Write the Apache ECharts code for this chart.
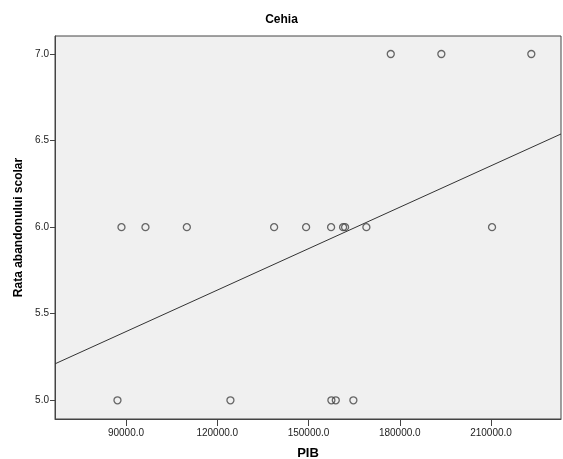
<!DOCTYPE html>
<html>
<head>
<meta charset="utf-8">
<script src="https://cdn.jsdelivr.net/npm/echarts@6/dist/echarts.min.js"></script>
<style>
html,body{margin:0;padding:0;background:#fff;}
#c{width:563px;height:459px;}
</style>
</head>
<body>
<div id="c"></div>
<script>
// Data
var pib7 = [177042, 193669, 223242];
var pib6 = [88521, 96407, 110011, 138697, 149211, 157426, 161369, 162026, 169025, 210329];
var pib5 = [87207, 124337, 157524, 158970, 164753];
var xTicks = [90000, 120000, 150000, 180000, 210000];
var yTicks = [5.0, 5.5, 6.0, 6.5, 7.0];
var xMin = 66670, xMax = 233000;
var yMin = 4.892, yMax = 7.104;

var points = [];
pib7.forEach(function (x) { points.push([x, 7]); });
pib6.forEach(function (x) { points.push([x, 6]); });
pib5.forEach(function (x) { points.push([x, 5]); });

// least-squares fit line
var n = points.length, sx = 0, sy = 0;
points.forEach(function (p) { sx += p[0]; sy += p[1]; });
var mx = sx / n, my = sy / n, sxy = 0, sxx = 0;
points.forEach(function (p) { sxy += (p[0] - mx) * (p[1] - my); sxx += (p[0] - mx) * (p[0] - mx); });
var slope = sxy / sxx, icpt = my - slope * mx;
var fit = [[xMin, icpt + slope * xMin], [xMax, icpt + slope * xMax]];

var font = 'Liberation Sans, Arial, sans-serif';
var chart = echarts.init(document.getElementById('c'), null, {renderer: 'canvas'});
chart.setOption({
  animation: false,
  backgroundColor: '#ffffff',
  title: {
    text: 'Cehia', left: 'center', top: 9,
    textStyle: {fontFamily: font, fontSize: 12, fontWeight: 'bold', color: '#000'}
  },
  grid: {left: 55, right: 2, top: 36, bottom: 40, outerBoundsMode: 'none', containLabel: false,
    show: true, backgroundColor: '#f0f0f0', borderColor: '#444', borderWidth: 1},
  xAxis: {
    type: 'value', min: xMin, max: xMax,
    name: 'PIB', nameLocation: 'middle', nameGap: 28,
    nameTextStyle: {fontFamily: font, fontSize: 13, fontWeight: 'bold', color: '#000'},
    axisLine: {show: true, onZero: false, lineStyle: {color: '#444'}},
    axisTick: {show: true, length: 7, customValues: xTicks, lineStyle: {color: '#444'}},
    axisLabel: {customValues: xTicks, margin: 9, fontFamily: font, fontSize: 10, color: '#222',
      formatter: function (v) { return v.toFixed(1); }},
    splitLine: {show: false}
  },
  yAxis: {
    type: 'value', min: yMin, max: yMax,
    name: 'Rata abandonului scolar', nameLocation: 'middle', nameGap: 27,
    nameTextStyle: {fontFamily: font, fontSize: 12, fontWeight: 'bold', color: '#000'},
    axisLine: {show: true, onZero: false, lineStyle: {color: '#444'}},
    axisTick: {show: true, length: 5, customValues: yTicks, lineStyle: {color: '#444'}},
    axisLabel: {customValues: yTicks, margin: 6, fontFamily: font, fontSize: 10, color: '#222',
      formatter: function (v) { return v.toFixed(1); }},
    splitLine: {show: false}
  },
  series: [
    {
      type: 'line', data: fit, symbol: 'none', silent: true,
      lineStyle: {color: '#333', width: 1}, z: 2
    },
    {
      type: 'scatter', data: points, symbol: 'circle', symbolSize: 7,
      itemStyle: {color: 'rgba(0,0,0,0)', borderColor: '#444', borderWidth: 1.3}, z: 3
    }
  ]
});
</script>
</body>
</html>
